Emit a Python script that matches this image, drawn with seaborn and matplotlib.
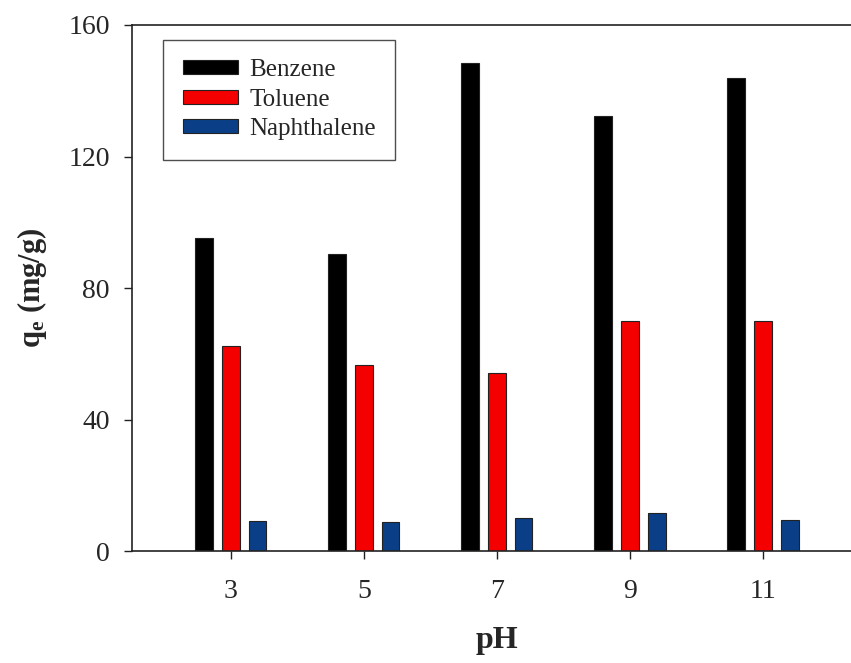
import numpy as np
import pandas as pd
import matplotlib
matplotlib.use("Agg")
import matplotlib.pyplot as plt
import seaborn as sns

# Adsorption capacity of each compound at different pH values
ph_levels = ["3", "5", "7", "9", "11"]
benzene = [95.2, 90.3, 148.5, 132.3, 143.8]
toluene = [62.5, 56.6, 54.0, 70.0, 70.0]
naphthalene = [9.0, 8.8, 10.1, 11.6, 9.4]
compounds = ["Benzene", "Toluene", "Naphthalene"]
bar_colors = ["#000000", "#f40000", "#0a3f88"]

df = pd.DataFrame({
    "pH": ph_levels * 3,
    "qe": benzene + toluene + naphthalene,
    "Compound": [c for c in compounds for _ in ph_levels],
})

sns.set_theme(style="ticks")
plt.rcParams["font.family"] = ["Liberation Serif", "DejaVu Serif"]
plt.rcParams["mathtext.fontset"] = "custom"
plt.rcParams["mathtext.rm"] = "Liberation Serif"
plt.rcParams["mathtext.it"] = "Liberation Serif:italic"
plt.rcParams["mathtext.bf"] = "Liberation Serif:bold"

fig = plt.figure(figsize=(8.51, 6.63), dpi=100)
ax = fig.add_axes([0.1551, 0.1689, 0.8578, 0.7934])

sns.barplot(data=df, x="pH", y="qe", hue="Compound", order=ph_levels,
            hue_order=compounds, palette=bar_colors, saturation=1,
            width=0.6, gap=0.33, edgecolor="#222222", linewidth=0.8, ax=ax)

ax.set_xlim(-0.744, 4.744)
ax.set_ylim(0, 160)
ax.set_yticks([0, 40, 80, 120, 160])

for side in ["left", "bottom", "top"]:
    ax.spines[side].set_linewidth(1.2)
    ax.spines[side].set_color("#222222")
ax.spines["right"].set_visible(False)

ax.tick_params(axis="both", direction="out", length=6, width=1.0,
               color="#222222", labelsize=20)
ax.tick_params(axis="y", pad=10)
ax.tick_params(axis="x", pad=14)

ax.set_xlabel("pH", fontsize=23, fontweight="bold", labelpad=16)
ax.set_ylabel(r"$\mathbf{q_e}$ (mg/g)", fontsize=22, fontweight="bold", labelpad=14)

leg = ax.legend(loc="upper left", bbox_to_anchor=(0.043, 0.972), fontsize=18,
                frameon=True, fancybox=False, edgecolor="#222222",
                handlelength=2.2, handleheight=0.5, handletextpad=0.45,
                labelspacing=0.3, borderpad=0.78, borderaxespad=0)
leg.get_frame().set_linewidth(1.0)
leg.set_title(None)

fig.savefig("out.png", dpi=100)
